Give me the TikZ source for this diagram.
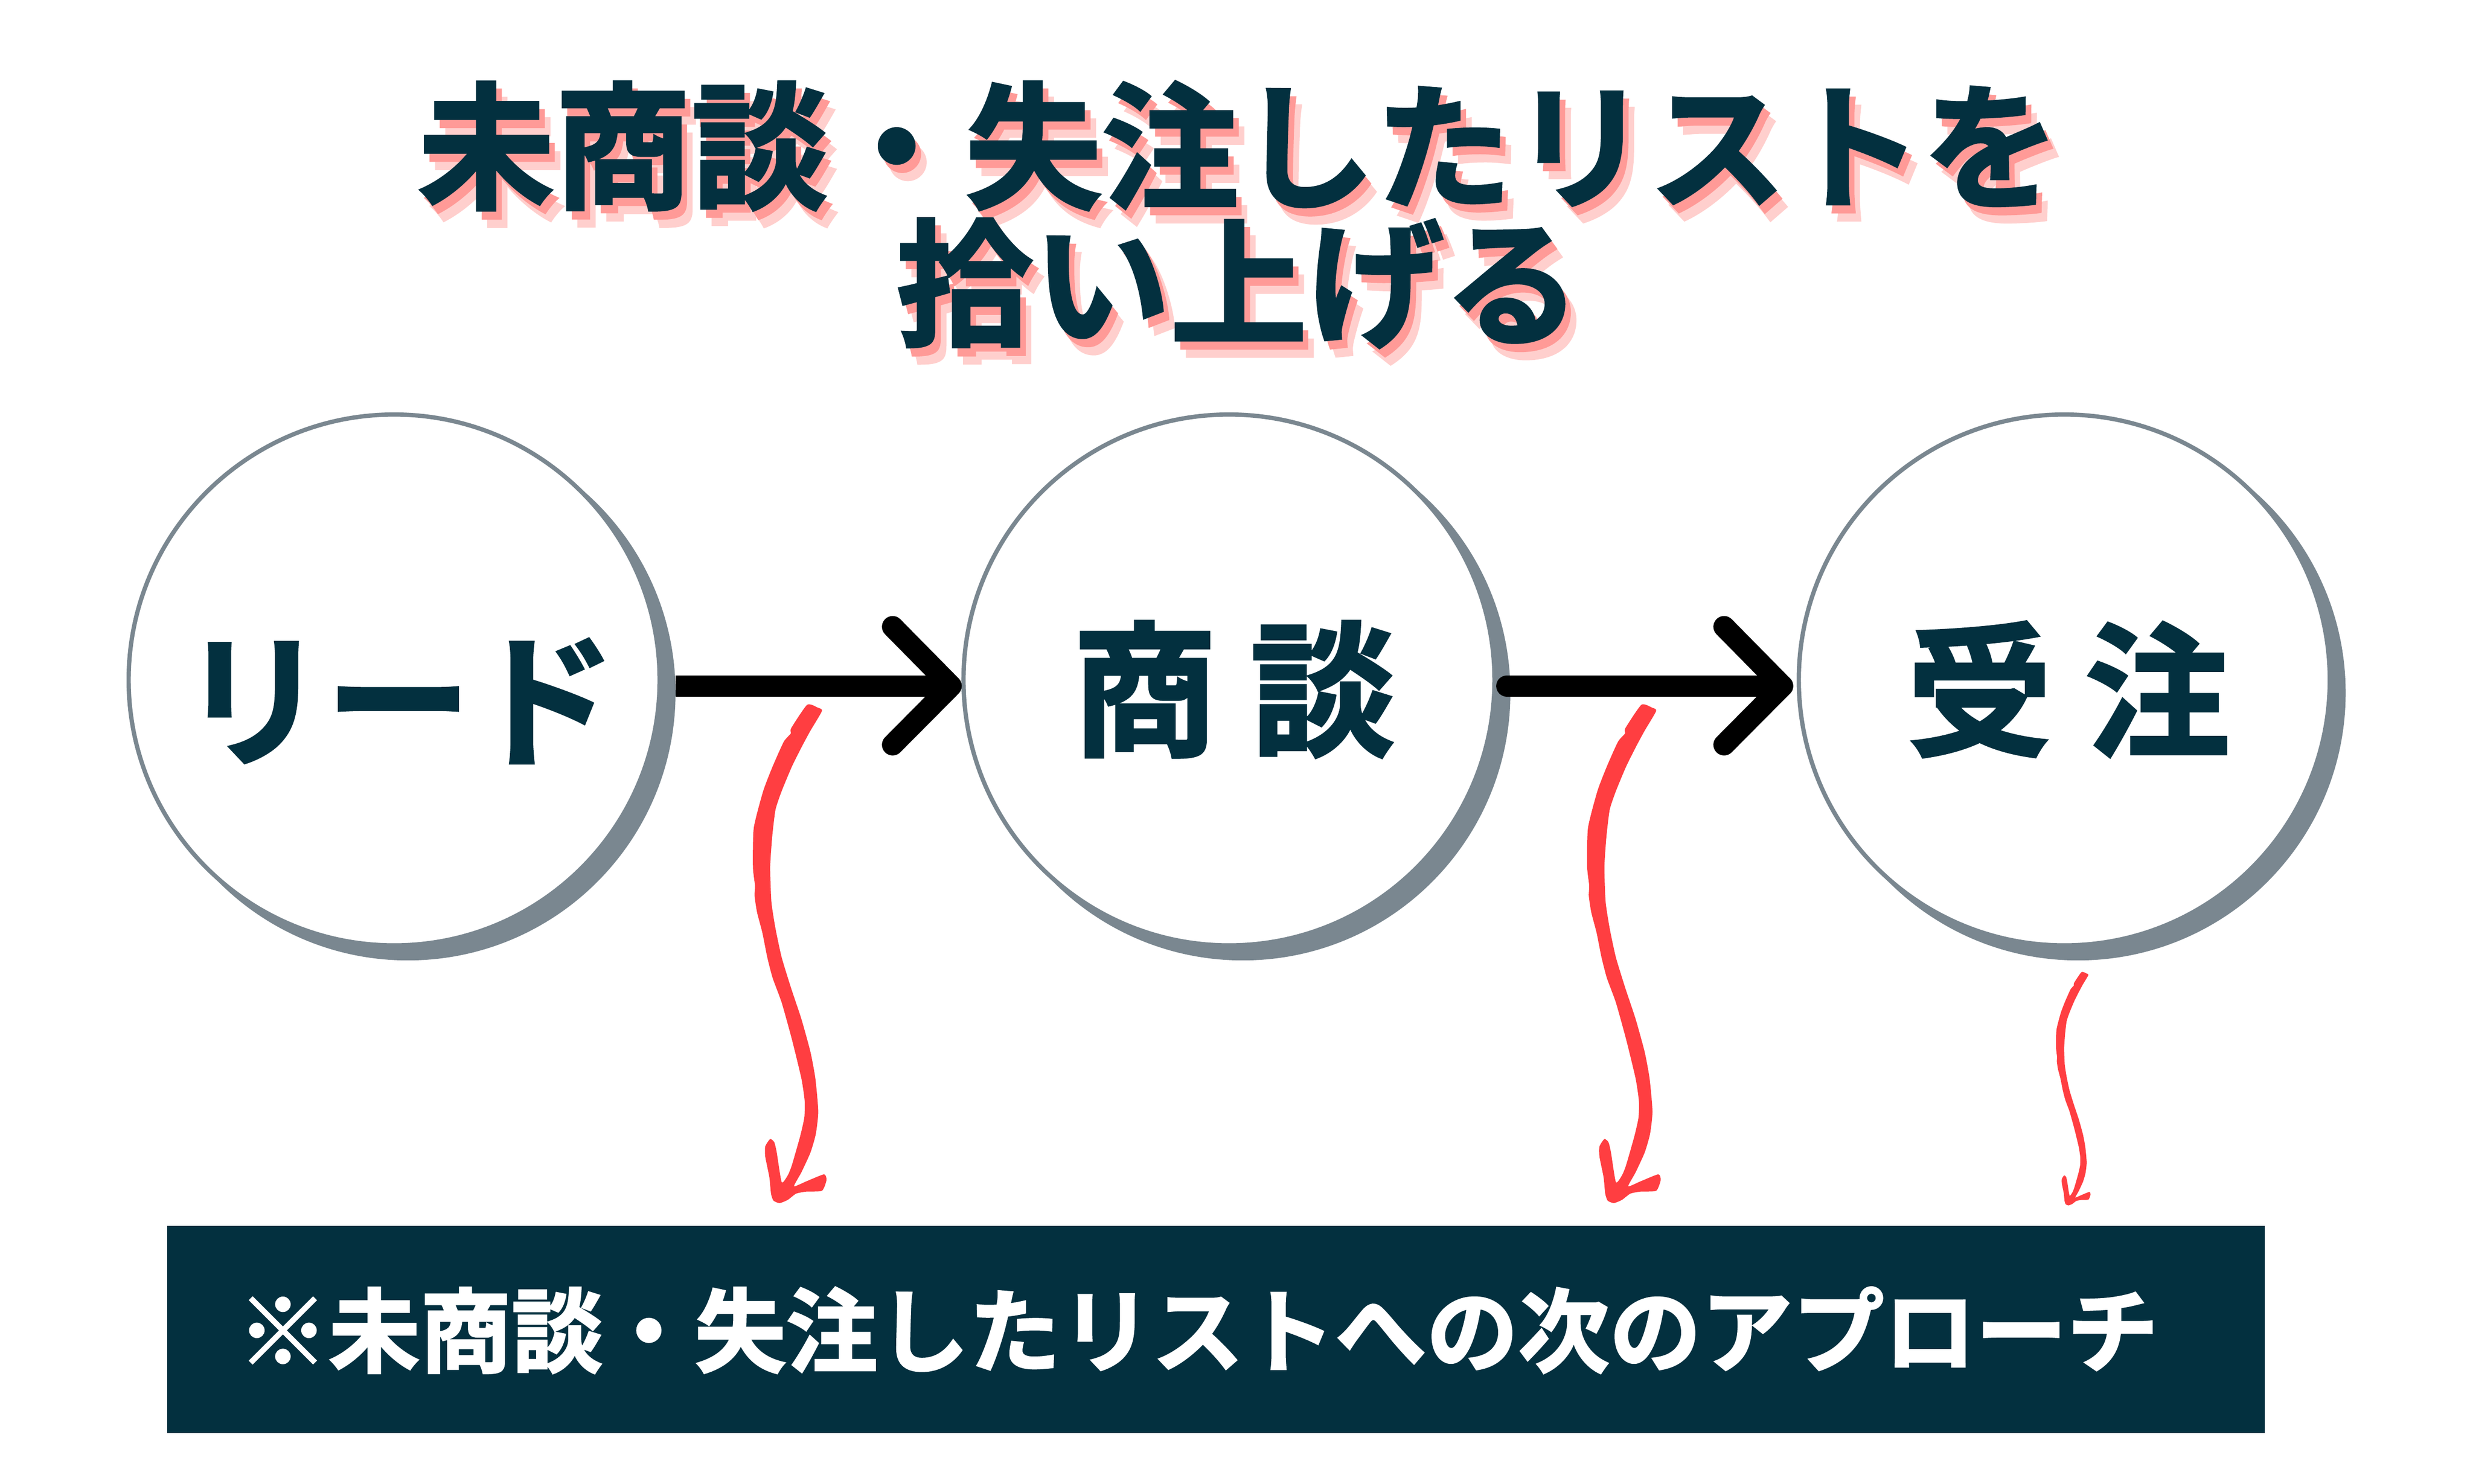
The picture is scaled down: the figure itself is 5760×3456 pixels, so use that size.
\documentclass[tikz,border=0pt]{standalone}
\usepackage{fontspec}
\usetikzlibrary{calc}
\newfontfamily\jpblack[FakeBold=2]{Noto Sans CJK JP Bold}
\definecolor{navy}{HTML}{03303F}
\definecolor{ringgray}{HTML}{7A8790}
\definecolor{scribble}{HTML}{FF3E41}
\definecolor{shadowmid}{HTML}{FF9A97}
\definecolor{shadowlight}{HTML}{FFCFCD}
\newcommand{\squiggle}{plot[smooth cycle,tension=.35] coordinates {
(442,305)(468,312)(478,320)(450,368)(430,405)(405,455)(380,515)(365,560)(357,625)(352,700)(355,785)(365,850)(380,920)(403,995)(428,1070)(450,1150)(462,1215)(469,1295)(463,1350)(450,1395)(428,1443)(410,1477)(440,1465)(483,1448)(489,1462)(478,1488)(440,1490)(415,1495)(395,1510)(375,1518)(360,1512)(354,1495)(350,1455)(340,1405)(340,1380)(352,1362)(362,1370)(368,1395)(380,1467)(395,1450)(405,1425)(425,1355)(435,1310)(436,1270)(428,1215)(405,1120)(380,1030)(358,970)(345,920)(333,860)(320,810)(314,770)(315,745)(310,700)(312,605)(335,515)(358,455)(385,395)(402,375)(403,362)}}
\newcommand{\titletext}{未商談・失注したリストを\\拾い上げる}
\tikzset{
  ringnode/.style={circle,draw=ringgray,fill=white,line width=2.845pt,minimum size=12.36cm,inner sep=0pt},
  shadownode/.style={circle,fill=ringgray,minimum size=12.46cm,inner sep=0pt,outer sep=0pt},
  circletext/.style={text=navy,inner sep=0pt,font=\jpblack\fontsize{96}{96}\selectfont},
  titlenode/.style={align=center,inner sep=0pt,font=\jpblack\fontsize{90.6}{90.6}\selectfont},
  flowline/.style={line width=14.2pt,draw=black},
  scribblefill/.style={fill=scribble,draw=none},
}
\begin{document}
\begin{tikzpicture}[x=0.01cm,y=-0.01cm]
\useasboundingbox (0,0) rectangle (5760,3456);
\fill[white] (0,0) rectangle (5760,3456);
% title
\node[titlenode,text=shadowlight] (titleB) at (2911,538) {\titletext};
\node[titlenode,text=shadowmid] (titleA) at (2898,519) {\titletext};
\node[titlenode,text=navy] (title) at (2885,500) {\titletext};
% circle shadows and circles
\node[shadownode] (s1) at (950,1614) {};
\node[shadownode] (s2) at (2894.5,1614) {};
\node[shadownode] (s3) at (4840,1614) {};
\node[ringnode] (c1) at (918,1584) {};
\node[ringnode] (c2) at (2862.5,1584) {};
\node[ringnode] (c3) at (4808,1584) {};
% connectors
\coordinate (a1s) at ($(s1.east)+(0,-16)$);
\coordinate (a1t) at ($(c2.west)+(-24,14)$);
\coordinate (a2s) at ($(s2.east)+(-8,-16)$);
\coordinate (a2t) at ($(c3.west)+(-33,14)$);
\draw[flowline] (a1s) -- (a1t);
\draw[flowline,line cap=round] (a2s) -- (a2t);
\draw[flowline,line cap=round,line join=round] ($(a1t)+(-136,-138)$) -- (a1t) -- ($(a1t)+(-136,137)$);
\draw[flowline,line cap=round,line join=round] ($(a2t)+(-136,-138)$) -- (a2t) -- ($(a2t)+(-136,137)$);
% circle labels
\node[circletext] (t1) at (928,1633) {リード};
\node[circletext] (t2) at (2874,1606) {商 談};
\node[circletext] (t3) at (4818,1606) {受 注};
% hand-drawn arrows
\begin{scope}[shift={(1457,1350)},scale=0.957]
\fill[scribblefill] \squiggle;
\end{scope}
\begin{scope}[shift={(3400,1350)},scale=0.957]
\fill[scribblefill] \squiggle;
\end{scope}
\begin{scope}[shift={(4650,2128)},scale=0.448]
\fill[scribblefill] \squiggle;
\end{scope}
% bottom bar
\fill[navy] (389.5,2856) rectangle (5275,3338.5);
\node[text=white,inner sep=0pt,font=\jpblack\fontsize{60.6}{60.6}\selectfont] (bar) at (2790,3099) {※未商談・失注したリストへの次のアプローチ};
\end{tikzpicture}
\end{document}
